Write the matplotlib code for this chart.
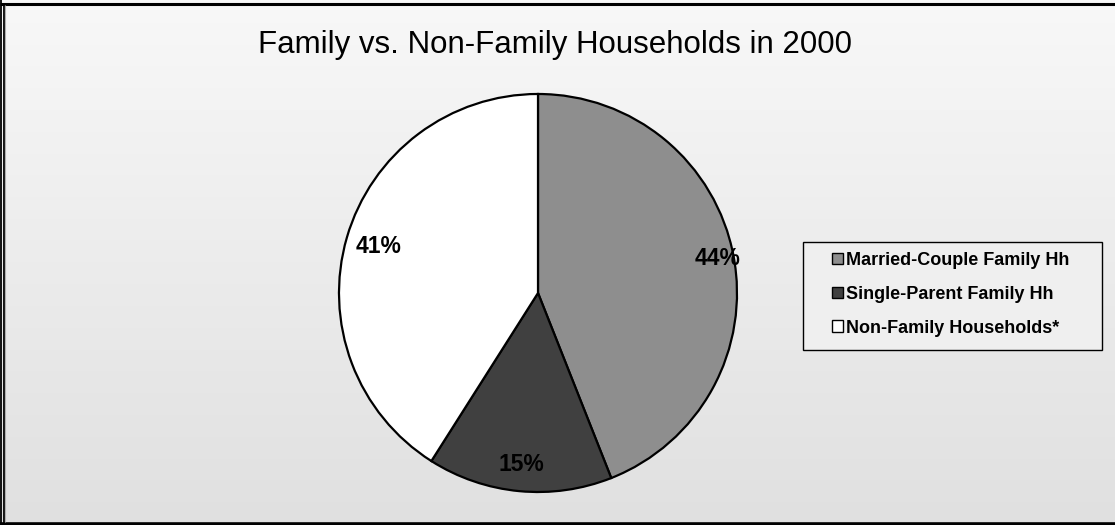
import numpy as np
import matplotlib
matplotlib.use("Agg")
import matplotlib.pyplot as plt
from matplotlib.lines import Line2D
from matplotlib.patches import Rectangle

categories = ["Married-Couple Family Hh", "Single-Parent Family Hh", "Non-Family Households*"]
values = [44, 15, 41]
labels_pct = ["44%", "15%", "41%"]
colors = ["#8e8e8e", "#404040", "#ffffff"]
title = "Family vs. Non-Family Households in 2000"

plt.rcParams['font.family'] = ['Liberation Sans', 'DejaVu Sans']

W, H = 1115, 525
fig = plt.figure(figsize=(W / 100, H / 100), dpi=100)

# background gradient
bg = fig.add_axes([0, 0, 1, 1], zorder=-10)
grad = np.linspace(0, 1, 256).reshape(-1, 1)
bg.imshow(grad, aspect='auto', cmap=matplotlib.colors.LinearSegmentedColormap.from_list(
    'g', ['#f8f8f8', '#e0e0e0']), extent=[0, 1, 0, 1], origin='upper')
bg.set_xlim(0, 1); bg.set_ylim(0, 1)
bg.axis('off')

# frame lines (pixel coords)
def px_line(x0, y0, x1, y1, lw, color='black'):
    fig.add_artist(Line2D([x0 / W, x1 / W], [1 - y0 / H, 1 - y1 / H],
                          transform=fig.transFigure, lw=lw, color=color,
                          solid_capstyle='butt'))

px_line(0, 4, W, 4, 2.2)
px_line(0, 523.5, W, 523.5, 2.6)
px_line(0.8, 0, 0.8, H, 1.3)
px_line(3.6, 4, 3.6, 523, 1.3)
px_line(5.3, 5, 5.3, 522, 0.8, color='#b0b0b0')

# pie
cx, cy, r = 538, 293, 201
ax = fig.add_axes([(cx - r) / W, (H - cy - r) / H, 2 * r / W, 2 * r / H])
wedges, texts = ax.pie(values, colors=colors, startangle=90, counterclock=False,
                       wedgeprops=dict(edgecolor='black', linewidth=1.6),
                       radius=1.0)
mids = []
cum = 0
for v in values:
    mids.append(90 - (cum + v / 2) / sum(values) * 360)
    cum += v
dists = [0.92, 0.865, 0.835]
for lab, ang, d in zip(labels_pct, mids, dists):
    a = np.deg2rad(ang)
    ax.text(d * np.cos(a), d * np.sin(a), lab, ha='center', va='center',
            fontsize=16.5, fontweight='bold')
ax.set_xlim(-1.01, 1.01)
ax.set_ylim(-1.01, 1.01)
ax.axis('off')

fig.text(555.5 / W, 1 - 45 / H, title, ha='center', va='center', fontsize=22.5)

# legend frame
fig.add_artist(Rectangle((803 / W, 1 - 350 / H), 299 / W, 108 / H,
                         transform=fig.transFigure, facecolor='#efefef',
                         edgecolor='black', linewidth=1.0))

handles = [Rectangle((0, 0), 1, 1, facecolor=c, edgecolor='black', linewidth=1.0)
           for c in colors]
leg = fig.legend(handles, categories, loc='upper left',
                 bbox_to_anchor=(832 / W, 1 - 252 / H), frameon=False,
                 handlelength=0.6, handleheight=0.6,
                 handletextpad=0.2, labelspacing=0.93, borderpad=0.0,
                 borderaxespad=0, prop=dict(weight='bold', size=13))

fig.savefig("out.png", dpi=100)
